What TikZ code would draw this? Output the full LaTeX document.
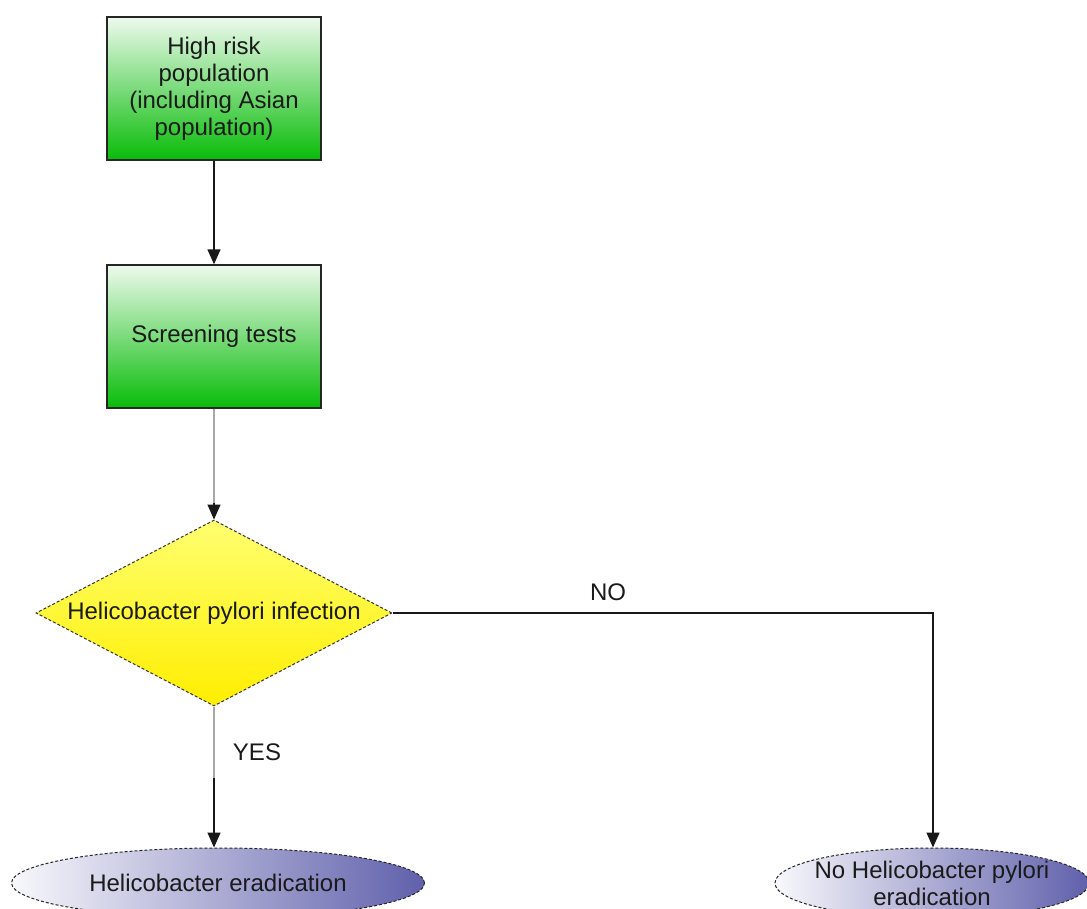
\documentclass[tikz,border=0pt]{standalone}
\usepackage{fontspec}
\setmainfont{Liberation Sans}
\usetikzlibrary{shapes.geometric,arrows.meta}
\definecolor{gtop}{HTML}{EEFAEE}
\definecolor{gbot}{HTML}{08BC08}
\definecolor{ytop}{HTML}{FFFF70}
\definecolor{ybot}{HTML}{FFEE00}
\definecolor{eleft}{HTML}{F8F8FC}
\definecolor{eright}{HTML}{6060AC}
\definecolor{txt}{HTML}{1A1A1A}
\definecolor{lgray}{HTML}{A8A8A8}
\tikzset{
  x=1pt,y=-1pt,
  every node/.style={font=\fontsize{24}{27}\selectfont, text=txt},
  greenbox/.style={draw=black!85, line width=1.4pt, top color=gtop, bottom color=gbot,
    minimum width=214pt, minimum height=143pt, align=center, inner sep=0pt},
  decision/.style={diamond, draw=black!80, line width=1pt, densely dashed, top color=ytop, bottom color=ybot,
    aspect=1.9, minimum width=356pt, minimum height=186pt, inner sep=0pt, align=center},
  terminal/.style={ellipse, draw=black!85, line width=1pt, densely dashed, left color=eleft, right color=eright,
    inner xsep=-20pt, inner ysep=-14pt, align=center},
  conn/.style={line width=1.5pt, black!90},
  grayconn/.style={line width=2.6pt, lgray},
  tip/.style={-{Triangle[width=13pt,length=15pt]}},
}
\begin{document}
\begin{tikzpicture}
\clip (0,0) rectangle (1087,909);
\fill[white] (0,0) rectangle (1087,909);
\node[greenbox] (risk) at (214,88.5) {High risk\\population\\(including Asian\\population)};
\node[greenbox] (screen) at (214,336.5) {Screening tests};
\node[decision] (hp) at (214,613) {Helicobacter pylori infection};
\node[terminal, minimum width=413pt, minimum height=70pt] (erad) at (218,883) {Helicobacter eradication};
\node[terminal, minimum width=314pt, minimum height=70pt] (noerad) at (932,883) {No Helicobacter pylori\\eradication};
\coordinate (ymid) at (214,778);
\coordinate (corner) at (933,613);
\draw[conn,tip] (risk.south) -- (screen.north);
\draw[grayconn] (screen.south) -- ([yshift=15pt]hp.north);
\draw[conn,tip] ([yshift=17pt]hp.north) -- (hp.north);
\draw[grayconn] (hp.south) -- (ymid);
\draw[conn,tip] (ymid) -- (erad.north -| ymid);
\draw[conn,tip] (hp.east) -- (corner) -- (noerad.north -| corner);
\node at (257,752) {YES};
\node at (608,592) {NO};
\end{tikzpicture}
\end{document}
